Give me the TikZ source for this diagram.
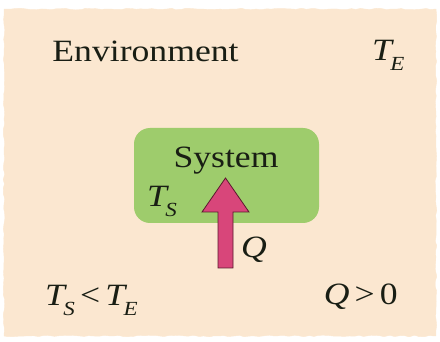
\documentclass[tikz,border=0pt]{standalone}
\usepackage{fontspec}
\setmainfont[FakeStretch=1.15]{Liberation Serif}
\definecolor{envbeige}{RGB}{251,231,208}
\definecolor{sysgreen}{RGB}{158,204,108}
\definecolor{heatpink}{RGB}{216,70,122}
\definecolor{heatdark}{RGB}{90,25,45}
\definecolor{inkdark}{RGB}{25,30,20}
\usetikzlibrary{positioning,calc,decorations.pathmorphing}
\newcommand{\tsub}[2]{\textit{#1}\kern-0.12em\raisebox{-0.3em}{\fontsize{20}{24}\selectfont\textit{#2}}}
\tikzset{
  envbg/.style={fill=envbeige,draw=envbeige,decorate,decoration={random steps,segment length=5pt,amplitude=0.8pt}},
  sysbox/.style={fill=sysgreen,rounded corners=16pt,minimum width=185pt,minimum height=95pt,inner sep=0pt},
  bigtxt/.style={font=\fontsize{31}{36}\selectfont,text=inkdark,inner sep=0pt},
  heatarrow/.style={fill=heatpink,draw=heatdark,line width=0.8pt,line join=miter},
}

\begin{document}
\begin{tikzpicture}[x=1pt,y=-1pt]
  \useasboundingbox (0,0) rectangle (440,342);
  \pgfmathsetseed{7}
  \draw[envbg] (4,9) rectangle (436,336);
  % system
  \node[sysbox] (sys) at (226.5,175.5) {};
  \node[bigtxt,anchor=base] (systxt) at (226,168) {System};
  \node[bigtxt,anchor=base west] (ts) at (147,207) {\tsub{T}{S}};
  % heat flow
  \coordinate (qtail) at (225.5,268);
  \coordinate (qtip) at (225.5,178);
  \draw[heatarrow] ($(qtail)+(-7.5,0)$) -- ($(qtip)+(-7.5,34)$) -- ($(qtip)+(-23.5,34)$)
    -- (qtip) -- ($(qtip)+(23.5,34)$) -- ($(qtip)+(7.5,34)$) -- ($(qtail)+(7.5,0)$) -- cycle;
  \node[bigtxt,anchor=base west] (q) at (241,258) {\textit{Q}};
  % environment
  \node[bigtxt,anchor=base] (env) at (145.5,62) {Environment};
  \node[bigtxt,anchor=base west] (te) at (372,61) {\tsub{T}{E}};
  \node[bigtxt,anchor=base west] (cond) at (45,306) {\tsub{T}{S}\,<\,\tsub{T}{E}};
  \node[bigtxt,anchor=base east] (qpos) at (398,305) {\textit{Q}\,>\,0};
\end{tikzpicture}
\end{document}
